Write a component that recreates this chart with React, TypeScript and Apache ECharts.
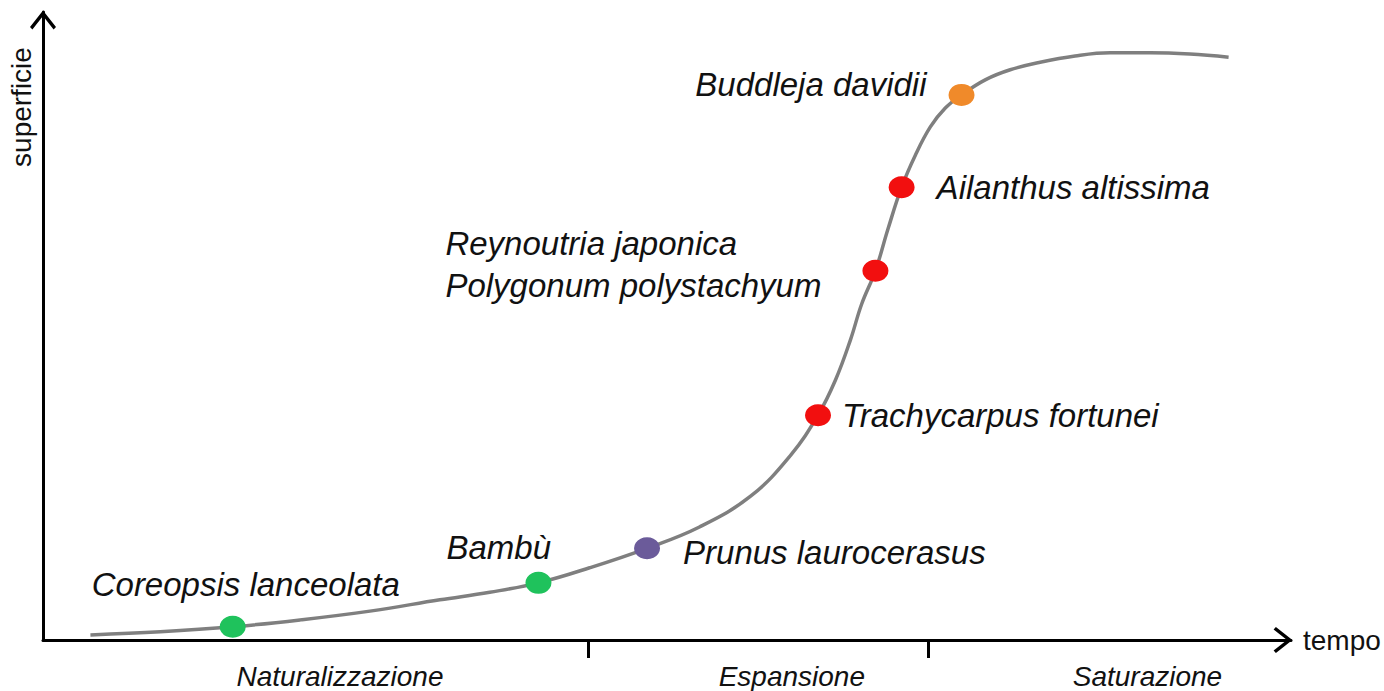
import React, { useEffect, useRef } from "react";
import * as echarts from "echarts";

// S-curve (time vs. surface), arbitrary units 0..100
const curveX = [3.8, 9.4, 15.2, 20.6, 26.2, 31.8, 35.8, 39.7, 43.8, 48.4, 52.6, 56.7, 59.9, 62.1, 63.5, 64.7, 65.6, 66.7, 67.7, 68.8, 69.9, 71.1, 72.3, 73.6, 75.5, 77.5, 79.9, 82.7, 85.5, 88.7, 91.9, 95.0];
const curveY = [0.8, 1.3, 2.1, 3.2, 4.6, 6.4, 7.6, 9.1, 11.5, 14.6, 18.0, 22.9, 29.4, 35.8, 41.4, 47.8, 53.5, 58.8, 65.4, 72.1, 77.2, 81.7, 84.7, 86.8, 89.2, 90.8, 92.0, 93.0, 93.5, 93.5, 93.3, 92.8];

const speciesNames = [
  "Coreopsis lanceolata",
  "Bambù",
  "Prunus laurocerasus",
  "Trachycarpus fortunei",
  "Reynoutria japonica\nPolygonum polystachyum",
  "Ailanthus altissima",
  "Buddleja davidii",
];
const speciesX = [15.2, 39.7, 48.4, 62.1, 66.7, 68.8, 73.6];
const speciesY = [2.1, 9.1, 14.6, 35.8, 58.8, 72.1, 86.8];

const phaseLabels = ["Naturalizzazione", "Espansione", "Saturazione"];
const phaseCenters = [23.8, 60.0, 88.5];
const phaseBounds = [43.7, 70.9];

// styling (not data)
const speciesColors = ["#1fc25c", "#1fc25c", "#6b5b9a", "#f20f0f", "#f20f0f", "#f20f0f", "#f08a2a"];
const labelPos: [number, number][] = [[-128, -31], [-79, -24], [49, 15], [37, 11], [-417, 5], [48, 11], [-22, 1]];
const labelAlign = ["left", "left", "left", "left", "left", "left", "right"];

const FONT = "'Liberation Sans', Arial, Helvetica, sans-serif";
const chevron = "path://M13,0 L26,16.5 L23.6,18.8 L13,5.4 L2.4,18.8 L0,16.5 Z";

export default function App() {
  const ref = useRef<HTMLDivElement>(null);
  useEffect(() => {
    if (!ref.current) return;
    const chart = echarts.init(ref.current, null, { renderer: "svg" });
    const axisLine = {
      show: true,
      lineStyle: { color: "#000", width: 3 },
      symbol: ["none", chevron],
      symbolSize: [26, 19],
      symbolOffset: [0, -8],
    };
    chart.setOption({
      animation: false,
      backgroundColor: "#fff",
      grid: { left: 43, right: 93, top: 12, bottom: 51 },
      xAxis: {
        type: "value",
        min: 0,
        max: 100,
        name: "tempo",
        nameLocation: "end",
        nameGap: 12,
        nameTextStyle: { fontFamily: FONT, fontSize: 28, color: "#111", verticalAlign: "middle" },
        axisLine,
        splitLine: { show: false },
        axisTick: {
          show: true,
          customValues: phaseBounds,
          length: 18,
          inside: false,
          lineStyle: { color: "#000", width: 3 },
        },
        axisLabel: {
          show: true,
          customValues: phaseCenters,
          margin: 22,
          fontFamily: FONT,
          fontStyle: "italic",
          fontSize: 28,
          color: "#111",
          formatter: (v: number) => {
            const i = phaseCenters.findIndex((c) => Math.abs(c - v) < 1e-6);
            return i >= 0 ? phaseLabels[i] : "";
          },
        },
      },
      yAxis: {
        type: "value",
        min: 0,
        max: 100,
        name: "superficie",
        nameLocation: "end",
        nameRotate: 90,
        nameGap: -95,
        nameTextStyle: {
          fontFamily: FONT,
          fontSize: 28,
          color: "#111",
          align: "center",
          verticalAlign: "bottom",
          padding: [0, 0, 8, 0],
        },
        axisLine,
        splitLine: { show: false },
        axisTick: { show: false },
        axisLabel: { show: false },
      },
      series: [
        {
          type: "line",
          data: curveX.map((x, i) => [x, curveY[i]]),
          smooth: 0.4,
          symbol: "none",
          lineStyle: { color: "#7f7f7f", width: 3.5 },
          z: 2,
        },
        {
          type: "scatter",
          symbol: "circle",
          symbolSize: [26, 22],
          z: 3,
          itemStyle: { opacity: 1 },
          data: speciesNames.map((name, i) => ({
            name,
            value: [speciesX[i], speciesY[i]],
            itemStyle: { color: speciesColors[i], opacity: 1 },
            label: {
              show: true,
              formatter: name,
              position: labelPos[i],
              align: labelAlign[i],
              verticalAlign: "middle",
              fontFamily: FONT,
              fontStyle: "italic",
              fontSize: 33,
              lineHeight: 42,
              color: "#111",
            },
          })),
        },
      ],
    });
    return () => chart.dispose();
  }, []);
  return <div ref={ref} style={{ position: "fixed", left: 0, top: 0, width: 1384, height: 691 }} />;
}
